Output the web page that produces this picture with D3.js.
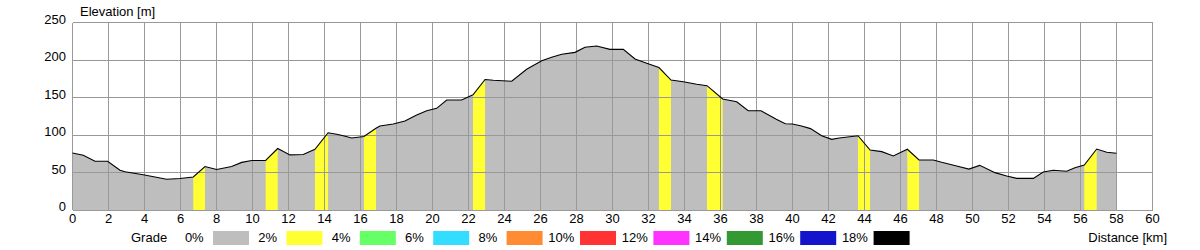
<!DOCTYPE html>
<html>
<head>
<meta charset="utf-8">
<script src="https://cdn.jsdelivr.net/npm/d3@7"></script>
<style>
  html, body { margin: 0; padding: 0; background: #fff; }
  svg { display: block; font-family: "Liberation Sans", Arial, sans-serif; }
</style>
</head>
<body>
<svg id="chart" width="1200" height="250"></svg>
<script>
// ---- data ----
const distanceKm = [0.0, 0.6, 1.25, 1.95, 2.64, 2.92, 3.93, 5.23, 5.97, 6.71, 7.36, 8.01, 8.84, 9.4, 9.96,
  10.73, 11.4, 12.08, 12.82, 13.47, 14.2, 14.68, 15.04, 15.51, 16.19, 16.86, 17.08, 17.82, 18.47, 19.12,
  19.68, 20.23, 20.79, 21.62, 22.25, 22.92, 23.38, 24.4, 25.23, 26.07, 26.62, 27.18, 27.92, 28.47, 29.12,
  29.86, 30.6, 31.25, 31.9, 32.58, 33.25, 33.93, 34.68, 35.25, 36.12, 36.9, 37.54, 38.25, 39.1, 39.6,
  40.0, 40.5, 41.0, 41.62, 42.18, 42.6, 43.64, 44.31, 44.96, 45.6, 46.38, 47.03, 47.82, 48.29, 49.12,
  49.8, 50.4, 51.25, 51.9, 52.46, 53.38, 53.93, 54.49, 55.23, 55.69, 56.21, 56.9, 57.46, 58.0];
const elevationM = [76, 73, 65, 65, 53, 51, 47, 41, 42, 44, 58, 54, 58, 63.5, 66,
  66, 82, 73.5, 74, 81, 103, 101, 99, 96, 98, 109, 112, 114.7, 118.7, 126.7,
  132.4, 135.6, 146.7, 146.7, 153.5, 174, 173, 171.6, 187.6, 199, 203.6, 207.6, 210.2, 216.9, 218.7,
  214.2, 214.2, 201.3, 195.6, 190, 173.3, 171.1, 167.6, 165.8, 148, 144.4, 132.4, 132.4, 121, 115,
  114.7, 112, 108.5, 99, 94.2, 96, 99, 80, 77.8, 72, 81, 66.7, 66.7, 63.6, 58.7,
  54.5, 59.5, 49.8, 45.3, 42.2, 42.2, 50.7, 52.9, 51.6, 56.4, 60, 81.3, 77, 75.6];
// grade band index (into gradeColors) of each segment between consecutive points
const segmentBand = [0,0,0,0,0,0,0,0,0,1,0,0,0,0,0,
  1,0,0,0,1,0,0,0,0,1,0,0,0,0,0,
  0,0,0,0,1,0,0,0,0,0,0,0,0,0,0,
  0,0,0,0,1,0,0,0,1,0,0,0,0,0,0,
  0,0,0,0,0,0,1,0,0,0,1,0,0,0,0,
  0,0,0,0,0,0,0,0,0,0,1,0,0];
const gradeLabels = ["0%", "2%", "4%", "6%", "8%", "10%", "12%", "14%", "16%", "18%"];
const gradeColors = ["#bebebe", "#ffff33", "#66ff66", "#33ddff", "#ff8c33", "#ff3333", "#ff33ff", "#339933", "#1414cc", "#000000"];
const xTicks = d3.range(0, 61, 2);
const yTicks = [0, 50, 100, 150, 200, 250];

// ---- layout ----
const svg = d3.select("#chart");
const padL = 72.5, padR = 1152.5, padT = 22.5, padB = 210;
const x = d3.scaleLinear().domain([0, 60]).range([padL, padR]);
const y = d3.scaleLinear().domain([0, 250]).range([padB, padT]);
const gridColor = "#999999";
const fontSize = 13;

const pts = distanceKm.map((d, i) => ({ d, e: elevationM[i] }));

// base fill (lowest band), then steeper segments on top
const area = d3.area().x(p => x(p.d)).y0(y(0)).y1(p => y(p.e));
svg.append("path").attr("d", area(pts)).attr("fill", gradeColors[0]);
const segs = svg.append("g");
for (let i = 0; i < pts.length - 1; i++) {
  if (segmentBand[i] === 0) continue;
  segs.append("path")
    .attr("d", area([pts[i], pts[i + 1]]))
    .attr("fill", gradeColors[segmentBand[i]]);
}

// grid (drawn over fill)
const grid = svg.append("g").attr("stroke", gridColor).attr("stroke-width", 1).attr("shape-rendering", "crispEdges");
grid.selectAll("line.v").data(xTicks).join("line").attr("class", "v")
  .attr("x1", d => x(d)).attr("x2", d => x(d)).attr("y1", padT).attr("y2", padB);
grid.selectAll("line.h").data(yTicks).join("line").attr("class", "h")
  .attr("x1", padL).attr("x2", padR).attr("y1", d => y(d)).attr("y2", d => y(d));

// profile line
svg.append("path")
  .attr("d", d3.line().x(p => x(p.d)).y(p => y(p.e))(pts))
  .attr("fill", "none").attr("stroke", "#000").attr("stroke-width", 1.1);

// axis labels
svg.append("g").selectAll("text").data(xTicks).join("text")
  .attr("x", d => x(d)).attr("y", padB + 12.5)
  .attr("text-anchor", "middle").attr("font-size", fontSize).attr("fill", "#000")
  .text(d => d);
svg.append("g").selectAll("text").data(yTicks).join("text")
  .attr("x", padL - 6.5).attr("y", d => y(d) + 1)
  .attr("text-anchor", "end").attr("font-size", fontSize).attr("fill", "#000")
  .text(d => d);

svg.append("text").attr("x", 80).attr("y", 15.5).attr("font-size", fontSize).text("Elevation [m]");
svg.append("text").attr("x", 1167).attr("y", 242).attr("text-anchor", "end").attr("font-size", fontSize).text("Distance [km]");

// legend
const lg = svg.append("g");
const step = 73.4, rx0 = 213, rw = 36, rh = 14, ry = 231;
lg.append("text").attr("x", 131).attr("y", 242).attr("font-size", fontSize).text("Grade");
lg.selectAll("rect").data(gradeColors).join("rect")
  .attr("x", (c, i) => rx0 + step * i).attr("y", ry).attr("width", rw).attr("height", rh)
  .attr("fill", c => c);
lg.selectAll("text.gl").data(gradeLabels).join("text").attr("class", "gl")
  .attr("x", (t, i) => rx0 + step * i - (step - rw) / 2)
  .attr("y", 242).attr("text-anchor", "middle").attr("font-size", fontSize)
  .text(t => t);
</script>
</body>
</html>
